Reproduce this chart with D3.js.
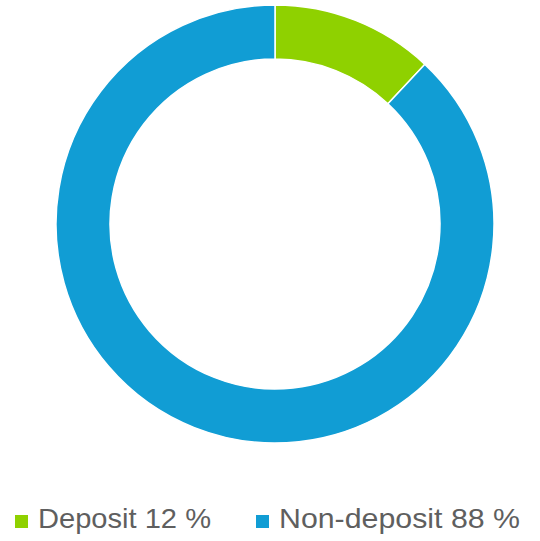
<!DOCTYPE html>
<html>
<head>
<meta charset="utf-8">
<script src="https://cdn.jsdelivr.net/npm/d3@7"></script>
<style>
  html, body { margin: 0; padding: 0; background: #ffffff; }
  svg { display: block; }
</style>
</head>
<body>
<svg id="chart" width="540" height="541"></svg>
<script>
const categories = ["Deposit", "Non-deposit"];
const values = [12, 88];
const colors = ["#8fd100", "#119dd4"];
const labelSuffix = [" 12 %", " 88 %"];

const svg = d3.select("#chart");
const cx = 275, cy = 224, outerR = 219, innerR = 165;

const data = categories.map((c, i) => ({ name: c, value: values[i], color: colors[i], label: c + labelSuffix[i] }));

const pie = d3.pie().value(d => d.value).sort(null);
const arc = d3.arc().innerRadius(innerR).outerRadius(outerR);

svg.append("g")
  .attr("transform", `translate(${cx},${cy})`)
  .selectAll("path")
  .data(pie(data))
  .join("path")
  .attr("d", arc)
  .attr("fill", d => d.data.color)
  .attr("stroke", "#ffffff")
  .attr("stroke-width", 1.5);

const legendX = [15, 256];
const legendTextLen = [173, 241];
const legend = svg.append("g");
data.forEach((d, i) => {
  const g = legend.append("g").attr("transform", `translate(${legendX[i]},0)`);
  g.append("rect").attr("x", 0).attr("y", 515).attr("width", 13).attr("height", 13).attr("fill", d.color);
  g.append("text")
    .attr("x", 23)
    .attr("y", 528)
    .attr("font-family", "Liberation Sans, Arial, sans-serif")
    .attr("font-size", 28)
    .attr("fill", "#5f5f5f")
    .attr("textLength", legendTextLen[i])
    .attr("lengthAdjust", "spacingAndGlyphs")
    .text(d.label);
});
</script>
</body>
</html>
